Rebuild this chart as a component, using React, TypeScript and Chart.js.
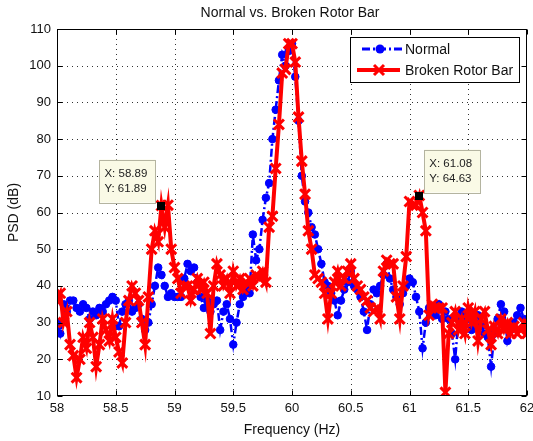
import React, { useEffect, useRef } from "react";
import { Chart, registerables } from "chart.js";

Chart.register(...registerables);

const TITLE = "Normal vs. Broken Rotor Bar";
const X_LABEL = "Frequency (Hz)";
const Y_LABEL = "PSD (dB)";
const SERIES_NAMES = ["Normal", "Broken Rotor Bar"];

const FREQ_START = 58;
const FREQ_STEP = 1 / 36;

const X_TICKS = [58, 58.5, 59, 59.5, 60, 60.5, 61, 61.5, 62];
const Y_TICKS = [10, 20, 30, 40, 50, 60, 70, 80, 90, 100, 110];

// PSD (dB), one value per frequency bin
const NORMAL = [
  30, 27, 35, 33, 36, 36, 34, 33, 35, 34,
  31, 33, 32, 34, 33, 35, 36, 37, 36, 29,
  33, 35, 36, 33, 34, 35, 31, 28, 30, 35,
  40, 45, 43, 40, 37, 38, 37, 37, 37, 42,
  46, 44, 45, 41, 37, 34, 36, 33, 35, 36,
  28, 33, 35, 31, 24, 30, 35, 37, 39, 38,
  54, 47, 50, 58, 64, 68, 80, 88, 96, 103,
  100, 104, 106, 97, 85, 70, 63, 60, 56, 54,
  50, 46, 41, 40, 38, 36, 32, 36, 39, 41,
  44, 40, 39, 37, 33, 28, 35, 39, 38, 40,
  43, 46, 42, 39, 37, 35, 38, 40, 42, 41,
  37, 33, 23, 30, 34, 33, 32, 35, 31, 33,
  31, 27, 20, 31, 33, 32, 31, 28, 30, 32,
  29, 27, 26, 18, 27, 31, 35, 33, 25, 28,
  30, 32, 34, 31, 29,
];

const BROKEN = [
  36, 38, 30, 33, 24, 21, 15, 20, 26, 23,
  30, 26, 18, 24, 31, 28, 25, 31, 26, 22,
  19, 30, 36, 40, 38, 36, 30, 24, 37, 50,
  55, 52, 61.89, 56, 62, 50, 45, 42, 38, 40,
  40, 36, 39, 42, 39, 41, 38, 27, 40, 46,
  43, 40, 42, 38, 44, 40, 42, 39, 41, 42,
  40, 43, 42, 44, 41, 56, 59, 72, 84, 98,
  99, 106, 106, 101, 86, 74, 65, 55, 50, 43,
  42, 41, 38, 31, 38, 41, 44, 40, 42, 44,
  46, 42, 40, 39, 37, 36, 34, 33, 34, 31,
  44, 47, 46, 46, 37, 31, 40, 48, 63, 62,
  62, 64.63, 60, 55, 32, 35, 34, 34, 34, 11,
  27, 30, 33, 28, 31, 27, 34, 30, 33, 25,
  31, 33, 28, 24, 29, 27, 31, 28, 30, 27,
  29, 27, 28, 30, 27,
];

// data tips on the "Broken Rotor Bar" series (bin indices)
const TIP_INDICES = [32, 111];

const FONT = '"Liberation Sans", Arial, sans-serif';
const BLUE = "#0000ff";
const RED = "#ff0000";

const freqOf = (i: number) => FREQ_START + i * FREQ_STEP;

function drawCross(ctx: any, cx: number, cy: number, h: number) {
  ctx.beginPath();
  ctx.moveTo(cx - h, cy - h);
  ctx.lineTo(cx + h, cy + h);
  ctx.moveTo(cx - h, cy + h);
  ctx.lineTo(cx + h, cy - h);
  ctx.stroke();
}

const decorPlugin = {
  id: "matlabDecor",
  beforeDatasetsDraw(chart: any) {
    const { ctx, chartArea: a, scales } = chart;
    const xs = scales.x;
    const ys = scales.y;
    ctx.save();
    ctx.strokeStyle = "#333";
    ctx.lineWidth = 1;
    ctx.setLineDash([1, 4]);
    X_TICKS.forEach((v) => {
      const px = Math.round(xs.getPixelForValue(v)) + 0.5;
      if (px <= a.left + 1 || px >= a.right - 1) return;
      ctx.beginPath();
      ctx.moveTo(px, a.top);
      ctx.lineTo(px, a.bottom);
      ctx.stroke();
    });
    Y_TICKS.forEach((v) => {
      const py = Math.round(ys.getPixelForValue(v)) + 0.5;
      if (py <= a.top + 1 || py >= a.bottom - 1) return;
      ctx.beginPath();
      ctx.moveTo(a.left, py);
      ctx.lineTo(a.right, py);
      ctx.stroke();
    });
    ctx.restore();
  },
  afterDatasetsDraw(chart: any) {
    const { ctx, chartArea: a, scales } = chart;
    const xs = scales.x;
    const ys = scales.y;
    ctx.save();
    // frame
    ctx.setLineDash([]);
    ctx.strokeStyle = "#000";
    ctx.lineWidth = 1;
    const L = Math.round(a.left) + 0.5;
    const R = Math.round(a.right) - 0.5;
    const T = Math.round(a.top) + 0.5;
    const B = Math.round(a.bottom) - 0.5;
    ctx.strokeRect(L, T, R - L, B - T);
    // inner ticks
    X_TICKS.forEach((v) => {
      const px = Math.round(xs.getPixelForValue(v)) + 0.5;
      ctx.beginPath();
      ctx.moveTo(px, B);
      ctx.lineTo(px, B - 5);
      ctx.moveTo(px, T);
      ctx.lineTo(px, T + 5);
      ctx.stroke();
    });
    Y_TICKS.forEach((v) => {
      const py = Math.round(ys.getPixelForValue(v)) + 0.5;
      ctx.beginPath();
      ctx.moveTo(L, py);
      ctx.lineTo(L + 5, py);
      ctx.moveTo(R, py);
      ctx.lineTo(R - 5, py);
      ctx.stroke();
    });

    // data tips
    TIP_INDICES.forEach((idx, k) => {
      const fx = freqOf(idx);
      const fy = BROKEN[idx];
      const px = xs.getPixelForValue(fx);
      const py = ys.getPixelForValue(fy);
      const bw = 56;
      const bh = 43;
      const bx = k === 0 ? px - bw - 6 : px + 5;
      const by = py - bh - 3;
      ctx.fillStyle = "#fafae6";
      ctx.fillRect(bx, by, bw, bh);
      ctx.strokeStyle = "#b4b4a0";
      ctx.lineWidth = 1;
      ctx.strokeRect(Math.round(bx) + 0.5, Math.round(by) + 0.5, bw, bh);
      ctx.fillStyle = "#000";
      ctx.fillRect(Math.round(px) - 4, Math.round(py) - 4, 8, 8);
      ctx.fillStyle = "#222";
      ctx.font = "11.5px " + FONT;
      ctx.textAlign = "left";
      ctx.textBaseline = "middle";
      ctx.fillText("X: " + fx.toFixed(2), bx + 5, by + 14);
      ctx.fillText("Y: " + fy.toFixed(2), bx + 5, by + 29);
    });

    // legend
    const lw = 169;
    const lh = 45;
    const lx = Math.round(a.right) - 177;
    const ly = Math.round(a.top) + 8;
    ctx.fillStyle = "#fff";
    ctx.fillRect(lx, ly, lw, lh);
    ctx.strokeStyle = "#000";
    ctx.lineWidth = 1;
    ctx.strokeRect(lx + 0.5, ly + 0.5, lw, lh);
    const r1 = ly + 12;
    const r2 = ly + 33;
    ctx.strokeStyle = BLUE;
    ctx.lineWidth = 3;
    ctx.setLineDash([8, 3, 2, 3]);
    ctx.beginPath();
    ctx.moveTo(lx + 12, r1);
    ctx.lineTo(lx + 52, r1);
    ctx.stroke();
    ctx.setLineDash([]);
    ctx.fillStyle = BLUE;
    ctx.beginPath();
    ctx.arc(lx + 30, r1, 4.5, 0, Math.PI * 2);
    ctx.fill();
    ctx.strokeStyle = RED;
    ctx.lineWidth = 4;
    ctx.beginPath();
    ctx.moveTo(lx + 7, r2);
    ctx.lineTo(lx + 50, r2);
    ctx.stroke();
    ctx.lineWidth = 3;
    drawCross(ctx, lx + 29, r2, 5);
    ctx.fillStyle = "#111";
    ctx.font = "14px " + FONT;
    ctx.textAlign = "left";
    ctx.textBaseline = "middle";
    ctx.fillText(SERIES_NAMES[0], lx + 55, r1 + 1);
    ctx.fillText(SERIES_NAMES[1], lx + 55, r2 + 1);

    // title & axis labels
    ctx.fillStyle = "#111";
    ctx.font = "14px " + FONT;
    ctx.textAlign = "center";
    ctx.textBaseline = "middle";
    const cx = (a.left + a.right) / 2;
    ctx.fillText(TITLE, cx - 2, 13.5);
    ctx.fillText(X_LABEL, cx, 430);
    ctx.translate(14, (a.top + a.bottom) / 2);
    ctx.rotate(-Math.PI / 2);
    ctx.fillText(Y_LABEL, 0, 0);
    ctx.restore();
  },
};

export default function App() {
  const ref = useRef<HTMLCanvasElement | null>(null);

  useEffect(() => {
    if (!ref.current) return;
    const toPoints = (arr: number[]) => arr.map((v, i) => ({ x: freqOf(i), y: v }));
    const chart = new Chart(ref.current, {
      type: "line",
      data: {
        datasets: [
          {
            label: SERIES_NAMES[0],
            data: toPoints(NORMAL),
            borderColor: BLUE,
            backgroundColor: BLUE,
            borderWidth: 2.5,
            borderDash: [8, 3, 2, 3],
            pointStyle: "circle",
            pointRadius: 3.8,
            pointBorderWidth: 1,
            pointBackgroundColor: BLUE,
            pointBorderColor: BLUE,
            tension: 0,
            fill: false,
            order: 2,
          },
          {
            label: SERIES_NAMES[1],
            data: toPoints(BROKEN),
            borderColor: RED,
            backgroundColor: RED,
            borderWidth: 4,
            pointStyle: "crossRot",
            pointRadius: 7,
            pointBorderWidth: 3,
            pointBorderColor: RED,
            tension: 0,
            fill: false,
            order: 1,
          },
        ],
      },
      options: {
        responsive: false,
        devicePixelRatio: 1,
        animation: false,
        events: [],
        layout: { autoPadding: false, padding: { top: 29, right: 6, left: 0, bottom: 0 } },
        plugins: {
          legend: { display: false },
          tooltip: { enabled: false },
          title: { display: false },
        },
        scales: {
          x: {
            type: "linear",
            min: X_TICKS[0],
            max: X_TICKS[X_TICKS.length - 1],
            afterFit: (s: any) => {
              s.height = 45;
              s.paddingLeft = 0;
              s.paddingRight = 0;
            },
            afterBuildTicks: (s: any) => {
              s.ticks = X_TICKS.map((v) => ({ value: v }));
            },
            ticks: {
              autoSkip: false,
              maxRotation: 0,
              padding: 5,
              color: "#111",
              font: { family: FONT, size: 13 },
              callback: (v: any) => String(v),
            },
            grid: { display: false, drawTicks: false },
            border: { display: false },
          },
          y: {
            type: "linear",
            min: Y_TICKS[0],
            max: Y_TICKS[Y_TICKS.length - 1],
            afterFit: (s: any) => {
              s.width = 57;
              s.paddingTop = 0;
              s.paddingBottom = 0;
            },
            afterBuildTicks: (s: any) => {
              s.ticks = Y_TICKS.map((v) => ({ value: v }));
            },
            ticks: {
              autoSkip: false,
              padding: 6,
              color: "#111",
              font: { family: FONT, size: 13 },
              callback: (v: any) => String(v),
            },
            grid: { display: false, drawTicks: false },
            border: { display: false },
          },
        },
      },
      plugins: [decorPlugin],
    } as any);
    return () => chart.destroy();
  }, []);

  return (
    <div style={{ position: "fixed", left: 0, top: 0, width: 533, height: 441, background: "#fff" }}>
      <canvas ref={ref} width={533} height={441} style={{ display: "block" }} />
    </div>
  );
}
